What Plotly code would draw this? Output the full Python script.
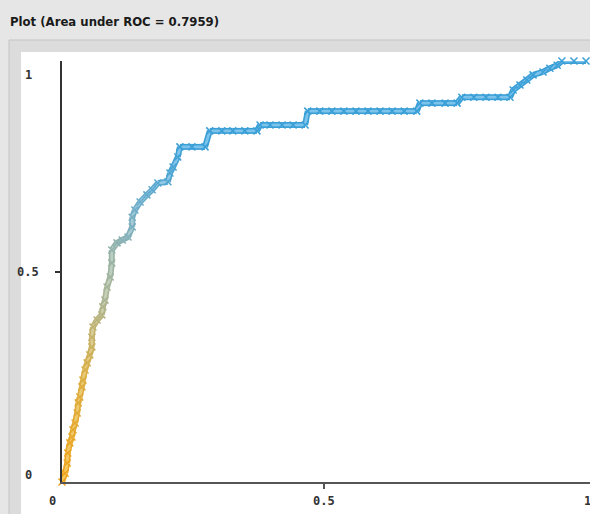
import plotly.graph_objects as go
from plotly.colors import sample_colorscale

W, H = 590, 514

# ROC points (false positive rate, true positive rate)
fpr = [0.0, 0.006, 0.010, 0.011, 0.015, 0.019, 0.021, 0.025, 0.029, 0.031,
       0.034, 0.038, 0.040, 0.044, 0.048, 0.053, 0.057, 0.057, 0.059, 0.067,
       0.076, 0.078, 0.082, 0.086, 0.092, 0.095, 0.095, 0.105, 0.115, 0.126,
       0.134, 0.134, 0.139, 0.149, 0.162, 0.172, 0.183, 0.202, 0.206, 0.212,
       0.221, 0.225, 0.248, 0.273, 0.282, 0.305, 0.326, 0.349, 0.372, 0.378,
       0.397, 0.420, 0.441, 0.464, 0.469, 0.492, 0.515, 0.538, 0.561, 0.584,
       0.607, 0.630, 0.653, 0.677, 0.683, 0.706, 0.731, 0.754, 0.763, 0.786,
       0.809, 0.832, 0.855, 0.861, 0.874, 0.887, 0.899, 0.918, 0.931, 0.945,
       0.954, 0.977, 1.0]
tpr = [0.0, 0.021, 0.045, 0.069, 0.093, 0.107, 0.124, 0.140, 0.164, 0.188,
       0.202, 0.226, 0.242, 0.266, 0.283, 0.302, 0.321, 0.344, 0.368, 0.385,
       0.397, 0.416, 0.432, 0.463, 0.487, 0.520, 0.551, 0.568, 0.575, 0.582,
       0.606, 0.629, 0.646, 0.665, 0.682, 0.694, 0.710, 0.713, 0.734, 0.748,
       0.772, 0.796, 0.796, 0.796, 0.834, 0.834, 0.834, 0.834, 0.834, 0.848,
       0.848, 0.848, 0.848, 0.848, 0.881, 0.881, 0.881, 0.881, 0.881, 0.881,
       0.881, 0.881, 0.881, 0.881, 0.900, 0.900, 0.900, 0.900, 0.914, 0.914,
       0.914, 0.914, 0.914, 0.931, 0.943, 0.955, 0.967, 0.974, 0.983, 0.990,
       1.0, 1.0, 1.0]

title_text = "Plot (Area under ROC = 0.7959)"
x_ticks = [0, 0.5, 1]
x_tick_labels = ["0", "0.5", "1"]
y_ticks = [0, 0.5, 1]
y_tick_labels = ["0", "0.5", "1"]

cscale = [[0.0, "#eea31c"], [0.15, "#dcae42"], [0.27, "#a9b596"],
          [0.40, "#6aaccc"], [0.50, "#3a9fd6"], [1.0, "#3a9fd6"]]
cscale_light = [[0.0, "#f5c860"], [0.15, "#e9cb78"], [0.27, "#c5cfb9"],
                [0.40, "#9ccbe2"], [0.50, "#7cc3ec"], [1.0, "#7cc3ec"]]

n = len(fpr)
fr = [i / (n - 1) for i in range(n)]
dark = sample_colorscale(cscale, fr)
light = sample_colorscale(cscale_light, fr)

fig = go.Figure()
for i in range(n - 1):
    fig.add_trace(go.Scatter(x=fpr[i:i + 2], y=tpr[i:i + 2], mode="lines",
                             line=dict(color=dark[i], width=6),
                             hoverinfo="skip", showlegend=False, cliponaxis=False))
for i in range(n - 1):
    fig.add_trace(go.Scatter(x=fpr[i:i + 2], y=tpr[i:i + 2], mode="lines",
                             line=dict(color=light[i], width=2.8),
                             hoverinfo="skip", showlegend=False, cliponaxis=False))
fig.add_trace(go.Scatter(x=fpr, y=tpr, mode="markers",
                         marker=dict(symbol="x-thin", size=7,
                                     line=dict(color=dark, width=1.5)),
                         showlegend=False, cliponaxis=False))

def px(x):
    return x / W

def py(y):
    return 1 - y / H

shapes = [
    dict(type="rect", xref="paper", yref="paper", x0=px(9), x1=px(W + 10), y0=py(40), y1=py(H + 10),
         fillcolor="#dcdcdc", line=dict(color="#c4c4c4", width=1), layer="below"),
    dict(type="rect", xref="paper", yref="paper", x0=px(21), x1=px(W + 5), y0=py(52), y1=py(H + 5),
         fillcolor="#ffffff", line=dict(width=0), layer="below"),
]

annotations = [
    dict(text=title_text, xref="paper", yref="paper", x=px(8), y=py(22),
         xanchor="left", yanchor="middle", showarrow=False,
         font=dict(family="DejaVu Sans Condensed, Liberation Sans Narrow, Roboto Condensed",
                   weight="bold", size=13, color="#1a1a1a"))
]
xshift = {0: -10, 0.5: 0, 1: 1}
for v, t in zip(x_ticks, x_tick_labels):
    annotations.append(dict(text=t, xref="x", yref="paper", x=v, y=py(501),
                            xanchor="center", yanchor="middle", showarrow=False, xshift=xshift[v],
                            font=dict(family="DejaVu Sans Mono", weight="bold", size=12, color="#333333")))
yshift = {0: 7, 0.5: 0, 1: -14}
for v, t in zip(y_ticks, y_tick_labels):
    annotations.append(dict(text=t, xref="paper", yref="y", x=px(28), y=v,
                            xanchor="center", yanchor="middle", showarrow=False, yshift=yshift[v],
                            font=dict(family="DejaVu Sans Mono", weight="bold", size=12, color="#333333")))

fig.update_layout(
    width=W, height=H,
    margin=dict(l=0, r=0, t=0, b=0),
    paper_bgcolor="#e6e6e6",
    plot_bgcolor="rgba(0,0,0,0)",
    shapes=shapes,
    annotations=annotations,
    xaxis=dict(domain=[px(62), 1], range=[0, (W - 62) / 524], showgrid=False, zeroline=False,
               showline=True, linecolor="#555555", linewidth=2,
               tickvals=[0.5], ticks="outside", ticklen=5, tickcolor="#555555", tickwidth=1.5,
               showticklabels=False, fixedrange=True),
    yaxis=dict(domain=[py(482), py(61)], range=[0, 1], showgrid=False, zeroline=False,
               showline=True, linecolor="#333333", linewidth=1.5,
               tickvals=[0.5], ticks="outside", ticklen=5, tickcolor="#333333", tickwidth=1.5,
               showticklabels=False, fixedrange=True),
)

fig.write_html("out.html", config={"displayModeBar": False},
               post_script="document.body.style.margin='0';")
